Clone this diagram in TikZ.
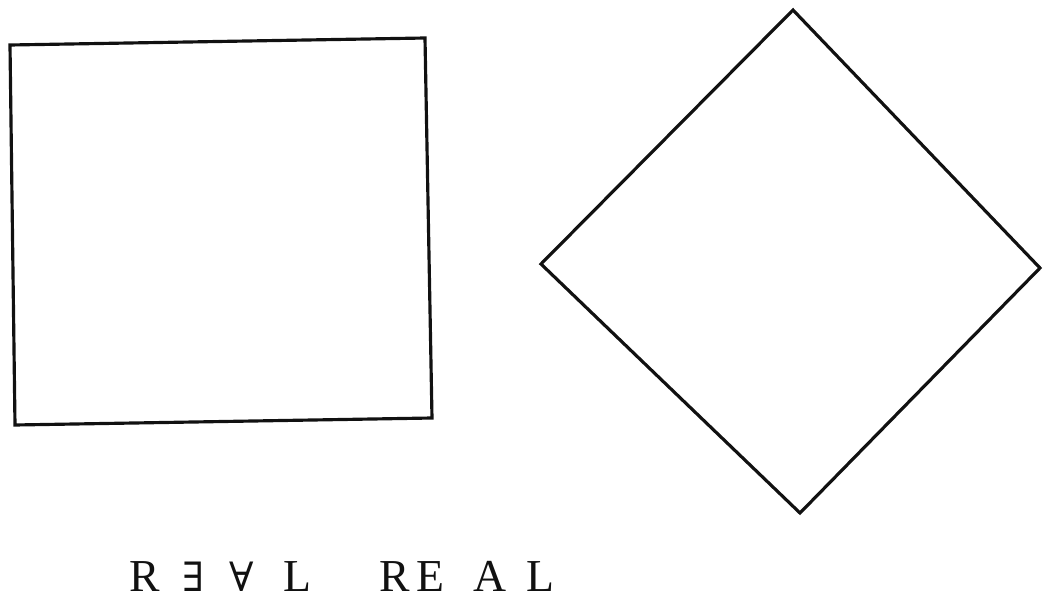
\documentclass[tikz,border=0pt]{standalone}
\usepackage{fontspec}
\setmainfont{Liberation Serif}
\newfontfamily\quantfont{DejaVu Serif}
\usepackage{tikz}
\usetikzlibrary{positioning}
\definecolor{inkBlack}{HTML}{111111}

\begin{document}
\begin{tikzpicture}[x=0.01cm,y=-0.01cm,
    shapeline/.style={inkBlack,line width=0.9pt,line join=miter},
    letter/.style={inkBlack,anchor=base,inner sep=0pt,font=\fontsize{13}{15}\selectfont}]
  \useasboundingbox (0,0) rectangle (1044,597);
  % slightly skewed square
  \draw[shapeline] (10,45) -- (425,38) -- (432,418) -- (15,425) -- cycle;
  % square turned on its corner
  \draw[shapeline] (793,10) -- (1040,268) -- (800,513) -- (541,264) -- cycle;
  % the two words
  \node[letter] (r1) at (145,592) {R};
  \node[letter] (e1) at (193,592) {\quantfont\fontsize{11.5}{14}\selectfont ∃};
  \node[letter] (a1) at (242,592) {\quantfont\fontsize{11.5}{14}\selectfont ∀};
  \node[letter] (l1) at (297,592) {L};
  \node[letter] (r2) at (395,592) {R};
  \node[letter] (e2) at (430,592) {E};
  \node[letter] (a2) at (490,592) {A};
  \node[letter] (l2) at (540,592) {L};
\end{tikzpicture}
\end{document}
